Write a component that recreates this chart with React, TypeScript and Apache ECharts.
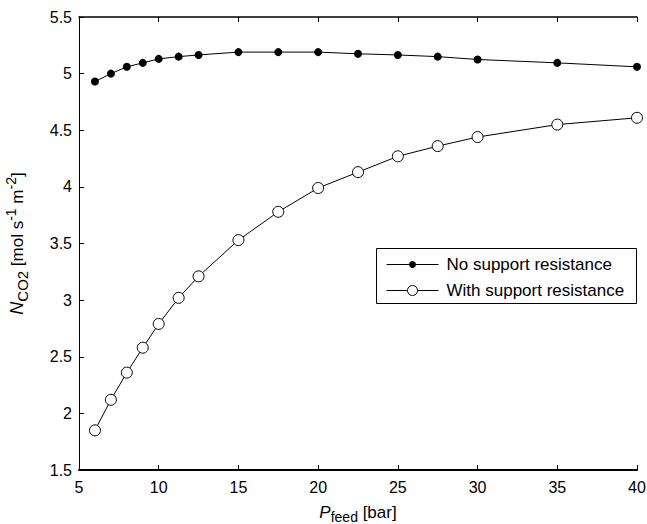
import React, { useEffect, useRef } from "react";
import * as echarts from "echarts";

const pressures = [6, 7, 8, 9, 10, 11.25, 12.5, 15, 17.5, 20, 22.5, 25, 27.5, 30, 35, 40];
const noSupport = [4.93, 5.0, 5.06, 5.095, 5.13, 5.15, 5.165, 5.19, 5.19, 5.19, 5.175, 5.165, 5.15, 5.125, 5.095, 5.06];
const withSupport = [1.85, 2.12, 2.36, 2.58, 2.79, 3.02, 3.21, 3.53, 3.78, 3.99, 4.13, 4.27, 4.36, 4.44, 4.55, 4.61];
const seriesNames = ["No support resistance", "With support resistance"];

const FONT = "Liberation Sans, Arial, Helvetica, sans-serif";

export default function App() {
  const ref = useRef<HTMLDivElement>(null);
  useEffect(() => {
    if (!ref.current) return;
    const chart = echarts.init(ref.current, null, { renderer: "svg" });
    const pair = (ys: number[]) => pressures.map((x, i) => [x, ys[i]]);
    const axisLabelStyle = { color: "#000", fontSize: 16, fontFamily: FONT };
    chart.setOption({
      animation: false,
      backgroundColor: "#fff",
      grid: { left: 79, right: 10, top: 17, bottom: 54, containLabel: false, outerBoundsMode: "none" },
      xAxis: [
        {
          type: "value",
          min: 5,
          max: 40,
          interval: 5,
          position: "bottom",
          axisLine: { show: true, lineStyle: { color: "#000", width: 2 } },
          axisTick: { show: true, inside: true, length: 5, lineStyle: { color: "#000" } },
          axisLabel: { ...axisLabelStyle, margin: 9 },
          splitLine: { show: false },
          name: "{i|P}{sub|feed}{n| [bar]}",
          nameLocation: "middle",
          nameGap: 30,
          nameTextStyle: {
            color: "#000",
            fontFamily: FONT,
            rich: {
              i: { fontSize: 17, fontStyle: "italic", fontFamily: FONT, color: "#000", lineHeight: 24 },
              sub: { fontSize: 14, fontFamily: FONT, color: "#000", lineHeight: 12, verticalAlign: "bottom" },
              n: { fontSize: 17, fontFamily: FONT, color: "#000", lineHeight: 24 },
            },
          },
        },
        {
          type: "value",
          min: 5,
          max: 40,
          interval: 5,
          position: "top",
          axisLine: { show: true, lineStyle: { color: "#000", width: 1.5 } },
          axisTick: { show: true, inside: true, length: 5, lineStyle: { color: "#000" } },
          axisLabel: { show: false },
          splitLine: { show: false },
        },
      ],
      yAxis: [
        {
          type: "value",
          min: 1.5,
          max: 5.5,
          interval: 0.5,
          axisLine: { show: true, lineStyle: { color: "#000", width: 1 } },
          axisTick: { show: true, inside: true, length: 5, lineStyle: { color: "#000" } },
          axisLabel: { ...axisLabelStyle, margin: 7 },
          splitLine: { show: false },
          name: "{i|N}{sub|CO2}{n| [mol s}{sup|-1}{n| m}{sup|-2}{n|]}",
          nameLocation: "middle",
          nameRotate: 90,
          nameGap: 49,
          nameTextStyle: {
            color: "#000",
            fontFamily: FONT,
            rich: {
              i: { fontSize: 18, fontStyle: "italic", fontFamily: FONT, color: "#000", lineHeight: 26 },
              sub: { fontSize: 15, fontFamily: FONT, color: "#000", lineHeight: 13, verticalAlign: "bottom" },
              sup: { fontSize: 14, fontFamily: FONT, color: "#000", lineHeight: 12, verticalAlign: "top" },
              n: { fontSize: 17, fontFamily: FONT, color: "#000", lineHeight: 26 },
            },
          },
        },
      ],
      series: [
        {
          name: seriesNames[0],
          type: "line",
          data: pair(noSupport),
          symbol: "circle",
          symbolSize: 8,
          lineStyle: { color: "#000", width: 1 },
          itemStyle: { color: "#000", borderWidth: 0 },
          z: 3,
        },
        {
          name: seriesNames[1],
          type: "line",
          data: pair(withSupport),
          symbol: "circle",
          symbolSize: 11,
          lineStyle: { color: "#000", width: 1 },
          itemStyle: { color: "#fff", borderColor: "#000", borderWidth: 1 },
          z: 2,
        },
      ],
      graphic: [
        {
          type: "group",
          left: 376,
          top: 248,
          children: [
            { type: "rect", shape: { x: 0, y: 0, width: 260, height: 55 }, style: { fill: "#fff", stroke: "#000", lineWidth: 1 } },
            { type: "line", shape: { x1: 10, y1: 16, x2: 62, y2: 16 }, style: { stroke: "#000", lineWidth: 1 } },
            { type: "circle", shape: { cx: 36, cy: 16, r: 3.5 }, style: { fill: "#000" } },
            { type: "text", x: 70, y: 16, style: { text: seriesNames[0], fill: "#000", font: `17px ${FONT}`, verticalAlign: "middle" } },
            { type: "line", shape: { x1: 10, y1: 42, x2: 62, y2: 42 }, style: { stroke: "#000", lineWidth: 1 } },
            { type: "circle", shape: { cx: 36, cy: 42, r: 5 }, style: { fill: "#fff", stroke: "#000", lineWidth: 1 } },
            { type: "text", x: 70, y: 42, style: { text: seriesNames[1], fill: "#000", font: `17px ${FONT}`, verticalAlign: "middle" } },
          ],
        },
      ],
    });
    return () => chart.dispose();
  }, []);
  return (
    <div
      ref={ref}
      style={{ position: "fixed", left: 0, top: 0, width: 647, height: 524, background: "#fff" }}
    />
  );
}
